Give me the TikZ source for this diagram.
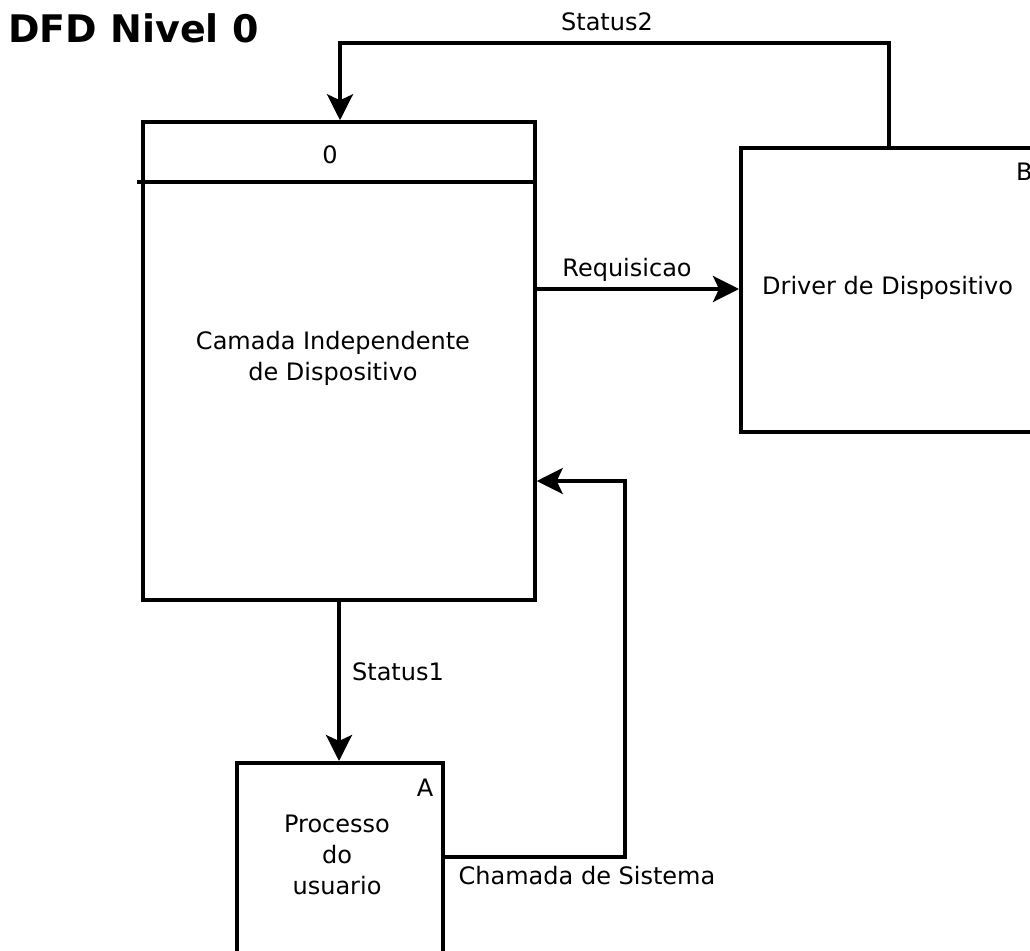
\documentclass[tikz,border=0pt]{standalone}
\usepackage{fontspec}
\setmainfont{DejaVu Sans}
\usetikzlibrary{arrows.meta}

\begin{document}
\begin{tikzpicture}[x=1pt, y=-1pt,
  box/.style={draw, line width=3.5pt, rectangle, inner sep=0pt},
  flow/.style={line width=3.5pt, -{Stealth[length=26pt,width=26pt,inset=6pt]}},
  txt/.style={font=\fontsize{24}{31}\selectfont, inner sep=0pt}]
\clip (0,0) rectangle (1030,950);
\node[font=\fontsize{38}{44}\selectfont\bfseries, anchor=base west, inner sep=0pt] (title) at (8,43) {DFD Nivel 0};

\node[box, minimum width=392pt, minimum height=478pt] (proc) at (339,361) {};
\node[box, minimum width=330pt, minimum height=284pt, anchor=north west] (drv) at (739,146) {};
\node[box, minimum width=206pt, minimum height=260pt, anchor=north west] (usr) at (235,761) {};
\draw[line width=3.5pt] (137,182) -- (533,182);

\node[txt] (pid) at (330,155) {0};
\node[txt, align=center] (ptext) at (333,358) {Camada Independente\\de Dispositivo};
\node[txt, anchor=west] (did) at (1016,172) {B};
\node[txt, anchor=west] (dtext) at (762,288) {Driver de Dispositivo};
\node[txt] (uid) at (425,788) {A};
\node[txt, align=center] (utext) at (337,855) {Processo\\do\\usuario};

\coordinate (s2a) at (889,43);
\coordinate (s2b) at (340,43);
\draw[flow] (drv.north -| s2a) -- (s2a) -- (s2b) -- (proc.north -| s2b);
\node[txt] (s2lbl) at (607,22) {Status2};

\coordinate (rq) at (0,289);
\draw[flow] (proc.east |- rq) -- (drv.west |- rq);
\node[txt] (rqlbl) at (627,270) {Requisicao};

\draw[flow] (proc.south) -- (proc.south |- usr.north);
\node[txt] (s1lbl) at (398,672) {Status1};

\coordinate (ch1) at (625,857);
\coordinate (ch2) at (625,481);
\draw[flow] (usr.east |- ch1) -- (ch1) -- (ch2) -- (proc.east |- ch2);
\node[txt] (chlbl) at (587,876) {Chamada de Sistema};
\end{tikzpicture}
\end{document}
